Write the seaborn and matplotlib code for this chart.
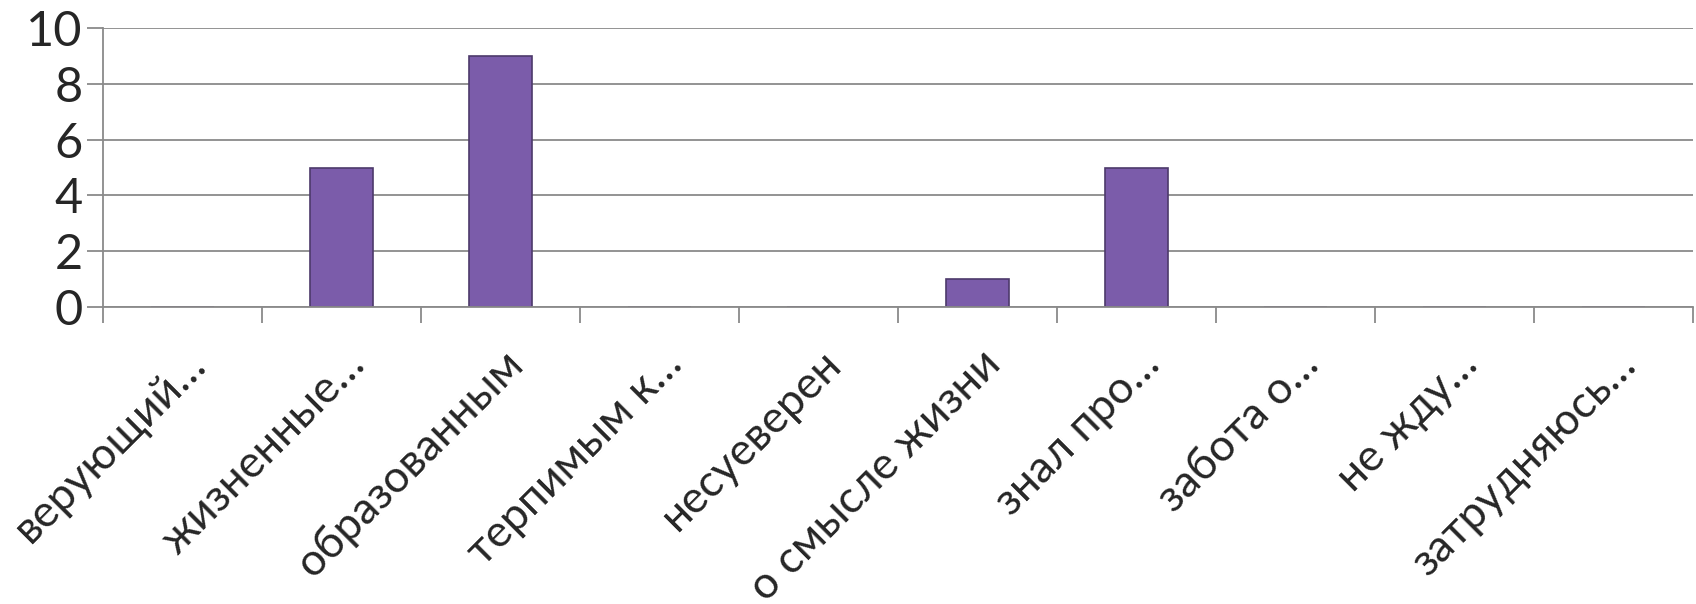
import numpy as np
import pandas as pd
import seaborn as sns
import matplotlib.pyplot as plt
import matplotlib.transforms as mtransforms

categories = ["верующий…", "жизненные…", "образованным", "терпимым к…",
              "несуеверен", "о смысле жизни", "знал про…", "забота о…",
              "не жду…", "затрудняюсь…"]
values = [0, 5, 9, 0, 0, 1, 5, 0, 0, 0]

sns.set_theme(style="white")
plt.rcParams['font.family'] = ['Lato', 'DejaVu Sans']

fig = plt.figure(figsize=(16.96, 6.04), dpi=100)
ax = fig.add_axes([103 / 1696, 1 - 307 / 604, 1590 / 1696, 279 / 604])

df = pd.DataFrame({"cat": categories, "val": values})
sns.barplot(data=df, x="cat", y="val", color="#7b5caa", width=0.4,
            edgecolor="#4d3a6b", linewidth=1.2, saturation=1, ax=ax)

ax.set_ylim(0, 10)
ax.set_xlim(-0.5, len(categories) - 0.5)
ax.set_yticks(range(0, 11, 2))
ax.yaxis.grid(True, color="#8a8a8a", linewidth=1.3)
ax.set_axisbelow(True)
ax.set_xlabel("")
ax.set_ylabel("")

for s in ["top", "right"]:
    ax.spines[s].set_visible(False)
for s in ["left", "bottom"]:
    ax.spines[s].set_color("#8a8a8a")
    ax.spines[s].set_linewidth(1.3)

# tick marks between categories, like the original
ax.set_xticks(np.arange(-0.5, len(categories), 1), minor=True)
ax.tick_params(axis="x", which="minor", length=11.5, width=1.3,
               color="#8a8a8a", direction="out", bottom=True)
ax.tick_params(axis="x", which="major", length=0, pad=26)
ax.tick_params(axis="y", length=11.5, width=1.3, color="#8a8a8a",
               direction="out", left=True, labelsize=35, pad=3)

ax.set_xticks(range(len(categories)))
ax.set_xticklabels(categories, rotation=45, ha="right",
                   rotation_mode="anchor", fontsize=32)
offset = mtransforms.ScaledTranslation(2 / 100, 0, fig.dpi_scale_trans)
for lbl in ax.get_xticklabels():
    lbl.set_transform(lbl.get_transform() + offset)

fig.savefig("out.png", dpi=100)
